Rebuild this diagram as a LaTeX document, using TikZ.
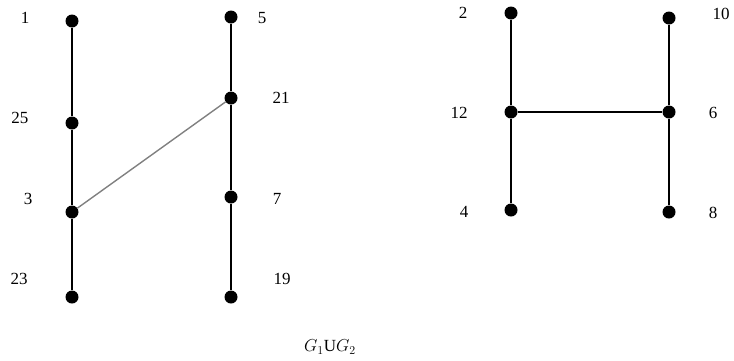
\documentclass[tikz,border=0pt]{standalone}
\usepackage{fontspec}
\setmainfont{Liberation Serif}
\begin{document}
\begin{tikzpicture}[x=1pt,y=-1pt,
  vtx/.style={circle,fill=black,inner sep=0pt,minimum size=13pt},
  lbl/.style={font=\fontsize{17}{17}\selectfont,inner sep=0pt},
  edge/.style={line width=1.6pt,black},
  cross/.style={line width=1.4pt,gray}]
\useasboundingbox (0,0) rectangle (734,360);
% first graph
\node[vtx] (v1)  at (72,21)  {};
\node[vtx] (v25) at (72,123) {};
\node[vtx] (v3)  at (72,212) {};
\node[vtx] (v23) at (72,297) {};
\node[vtx] (v5)  at (231,17) {};
\node[vtx] (v21) at (231,98) {};
\node[vtx] (v7)  at (231,197) {};
\node[vtx] (v19) at (231,297) {};
\node[lbl] at (25,18)  {1};
\node[lbl] at (20,118) {25};
\node[lbl] at (28,199) {3};
\node[lbl] at (19,279) {23};
\node[lbl] at (262,18) {5};
\node[lbl] at (281,98) {21};
\node[lbl] at (277,199) {7};
\node[lbl] at (282,279) {19};
\draw[edge] (v1) -- (v25) -- (v3) -- (v23);
\draw[edge] (v5) -- (v21) -- (v7) -- (v19);
\draw[cross] (v3) -- (v21);
% second graph
\node[vtx] (v2)  at (511,13)  {};
\node[vtx] (v12) at (511,112) {};
\node[vtx] (v4)  at (511,210) {};
\node[vtx] (v10) at (669,18)  {};
\node[vtx] (v6)  at (669,112) {};
\node[vtx] (v8)  at (669,212) {};
\node[lbl] at (463,13)  {2};
\node[lbl] at (459,113) {12};
\node[lbl] at (464,212) {4};
\node[lbl] at (721,14)  {10};
\node[lbl] at (713,113) {6};
\node[lbl] at (713,213) {8};
\draw[edge] (v2) -- (v12) -- (v4);
\draw[edge] (v10) -- (v6) -- (v8);
\draw[edge] (v12) -- (v6);
% caption
\node[font=\fontsize{17}{17}\selectfont,inner sep=0pt] (cap) at (330,347) {$G_1$U$G_2$};
\end{tikzpicture}
\end{document}
